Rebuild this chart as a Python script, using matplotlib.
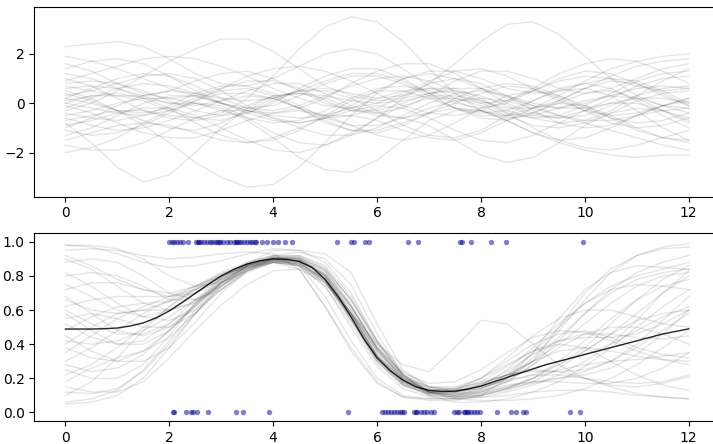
import numpy as np
import matplotlib
matplotlib.use("Agg")
import matplotlib.pyplot as plt

x_grid = [0, 0.5, 1, 1.5, 2, 2.5, 3, 3.5, 4, 4.5, 5, 5.5, 6, 6.5, 7, 7.5, 8, 8.5, 9, 9.5, 10, 10.5, 11, 11.5, 12]

# Top panel: prior sample curves
prior_samples = [
    [2.3, 2.4, 2.5, 2.3, 1.8, 1.2, 0.8, 0.7, 1.0, 1.5, 2.0, 2.2, 2.0, 1.4, 0.7, 0.2, 0.0, 0.1, 0.5, 0.9, 1.1, 1.0, 0.7, 0.5, 0.6],
    [-2.0, -1.8, -1.4, -0.8, -0.3, 0.0, -0.1, -0.6, -1.2, -1.6, -1.7, -1.3, -0.6, 0.2, 0.8, 1.0, 0.8, 0.3, -0.3, -0.8, -1.0, -0.9, -0.5, -0.1, 0.2],
    [-0.8, -1.6, -2.6, -3.2, -2.9, -2.0, -1.0, -0.2, 0.3, 0.4, 0.2, -0.2, -0.5, -0.6, -0.4, 0.0, 0.4, 0.7, 0.6, 0.2, -0.3, -0.8, -1.0, -0.9, -0.6],
    [0.5, 0.2, -0.3, -0.9, -1.6, -2.4, -3.0, -3.4, -3.3, -2.6, -1.6, -0.5, 0.4, 1.0, 1.2, 1.0, 0.6, 0.2, -0.1, -0.2, 0.0, 0.3, 0.6, 0.7, 0.6],
    [-0.7, -0.5, -0.3, -0.3, -0.5, -0.6, -0.4, 0.2, 1.1, 2.2, 3.1, 3.5, 3.3, 2.5, 1.4, 0.4, -0.3, -0.6, -0.5, -0.2, 0.1, 0.3, 0.2, -0.1, -0.4],
    [0.1, 0.3, 0.3, 0.1, -0.3, -0.6, -0.7, -0.4, 0.1, 0.5, 0.6, 0.4, 0.2, 0.3, 0.8, 1.6, 2.5, 3.2, 3.3, 2.8, 1.9, 1.0, 0.3, -0.1, -0.2],
    [1.2, 1.0, 0.6, 0.2, 0.0, 0.0, -0.2, -0.7, -1.4, -2.2, -2.7, -2.8, -2.3, -1.5, -0.7, -0.3, -0.3, -0.7, -1.2, -1.5, -1.4, -1.0, -0.5, -0.1, 0.1],
    [-0.3, 0.0, 0.5, 1.1, 1.7, 2.2, 2.6, 2.6, 2.1, 1.4, 0.7, 0.3, 0.1, 0.2, 0.4, 0.5, 0.3, -0.1, -0.5, -0.6, -0.3, 0.2, 0.7, 1.0, 1.1],
    [0.6, 0.7, 0.6, 0.3, 0.0, -0.1, 0.1, 0.5, 0.8, 0.8, 0.4, -0.1, -0.4, -0.6, -0.9, -1.5, -2.1, -2.4, -2.2, -1.6, -0.9, -0.4, -0.2, -0.3, -0.6],
    [1.6, 1.3, 0.8, 0.4, 0.2, 0.3, 0.6, 0.9, 0.9, 0.6, 0.1, -0.3, -0.4, -0.2, 0.3, 0.9, 1.3, 1.3, 1.0, 0.6, 0.4, 0.6, 1.0, 1.4, 1.6],
    [-1.5, -1.2, -0.9, -0.8, -0.9, -1.2, -1.5, -1.6, -1.4, -1.0, -0.6, -0.5, -0.7, -1.1, -1.4, -1.5, -1.2, -0.7, -0.2, 0.0, -0.1, -0.5, -1.0, -1.4, -1.6],
    [0.2, 0.6, 1.0, 1.2, 1.1, 0.7, 0.2, -0.2, -0.3, -0.1, 0.3, 0.7, 1.0, 1.1, 0.9, 0.5, 0.1, -0.2, -0.2, 0.1, 0.6, 1.1, 1.5, 1.7, 1.8],
    [-0.4, -0.6, -0.7, -0.5, -0.1, 0.4, 0.7, 0.7, 0.4, -0.1, -0.6, -0.9, -0.9, -0.6, -0.2, 0.1, 0.2, 0.1, -0.2, -0.5, -0.8, -1.1, -1.4, -1.7, -1.9],
    [0.9, 1.2, 1.5, 1.8, 1.9, 1.8, 1.5, 1.1, 0.6, 0.2, -0.1, -0.2, 0.0, 0.4, 0.9, 1.3, 1.4, 1.1, 0.6, 0.1, -0.3, -0.5, -0.4, -0.1, 0.2],
    [-1.1, -1.3, -1.2, -0.9, -0.4, 0.1, 0.4, 0.4, 0.2, -0.2, -0.5, -0.5, -0.2, 0.3, 0.6, 0.6, 0.2, -0.4, -1.0, -1.5, -1.8, -1.9, -1.7, -1.4, -1.1],
    [0.0, -0.2, -0.4, -0.5, -0.3, 0.1, 0.6, 1.1, 1.4, 1.5, 1.3, 0.9, 0.4, -0.1, -0.4, -0.5, -0.3, 0.1, 0.6, 1.2, 1.6, 1.8, 1.7, 1.3, 0.8],
    [1.9, 1.7, 1.4, 1.0, 0.6, 0.3, 0.0, -0.3, -0.5, -0.6, -0.5, -0.2, 0.2, 0.5, 0.6, 0.4, 0.0, -0.4, -0.6, -0.5, -0.1, 0.4, 0.9, 1.2, 1.3],
    [-0.9, -0.7, -0.4, -0.2, -0.2, -0.5, -1.0, -1.5, -1.9, -2.0, -1.7, -1.2, -0.6, -0.1, 0.2, 0.2, -0.1, -0.5, -0.9, -1.0, -0.8, -0.4, 0.1, 0.4, 0.5],
    [0.4, 0.1, -0.3, -0.7, -1.0, -1.1, -0.8, -0.3, 0.2, 0.5, 0.5, 0.2, -0.3, -0.9, -1.3, -1.4, -1.1, -0.5, 0.1, 0.6, 0.8, 0.6, 0.1, -0.5, -1.0],
    [-1.7, -1.9, -1.9, -1.6, -1.1, -0.6, -0.3, -0.3, -0.6, -1.0, -1.3, -1.3, -1.0, -0.5, 0.0, 0.4, 0.5, 0.3, 0.0, -0.2, -0.2, 0.0, 0.2, 0.2, 0.0],
    [0.7, 0.5, 0.3, 0.3, 0.5, 0.9, 1.2, 1.3, 1.0, 0.5, 0.0, -0.3, -0.3, 0.0, 0.4, 0.6, 0.6, 0.3, -0.1, -0.5, -0.7, -0.7, -0.5, -0.3, -0.2],
    [-0.2, 0.2, 0.6, 0.8, 0.7, 0.4, 0.0, -0.3, -0.4, -0.2, 0.2, 0.8, 1.3, 1.6, 1.6, 1.2, 0.6, 0.0, -0.4, -0.6, -0.5, -0.1, 0.3, 0.6, 0.7],
    [1.0, 0.7, 0.2, -0.3, -0.6, -0.7, -0.5, -0.1, 0.3, 0.4, 0.3, 0.1, 0.0, 0.1, 0.3, 0.3, 0.1, -0.3, -0.6, -0.8, -0.7, -0.3, 0.3, 0.9, 1.4],
    [-0.6, -0.9, -1.1, -1.0, -0.7, -0.3, 0.1, 0.3, 0.2, -0.2, -0.7, -1.1, -1.2, -0.9, -0.4, 0.2, 0.6, 0.8, 0.7, 0.3, -0.2, -0.6, -0.8, -0.7, -0.4],
    [0.3, 0.5, 0.8, 1.1, 1.2, 1.0, 0.5, -0.1, -0.6, -0.8, -0.6, -0.1, 0.5, 1.0, 1.3, 1.3, 1.0, 0.6, 0.4, 0.5, 0.8, 1.0, 0.9, 0.5, 0.0],
    [-1.3, -1.0, -0.5, 0.0, 0.3, 0.3, 0.0, -0.4, -0.7, -0.8, -0.6, -0.3, -0.1, -0.2, -0.6, -1.1, -1.5, -1.6, -1.3, -0.8, -0.3, 0.0, 0.0, -0.3, -0.7],
    [0.8, 0.9, 0.8, 0.5, 0.1, -0.3, -0.5, -0.4, 0.0, 0.6, 1.1, 1.4, 1.4, 1.0, 0.4, -0.2, -0.6, -0.7, -0.4, 0.1, 0.6, 0.9, 0.8, 0.4, -0.1],
    [-0.1, -0.4, -0.8, -1.2, -1.4, -1.4, -1.1, -0.7, -0.4, -0.3, -0.5, -0.9, -1.3, -1.5, -1.3, -0.8, -0.2, 0.3, 0.5, 0.3, -0.1, -0.6, -1.1, -1.4, -1.5],
    [1.4, 1.7, 1.8, 1.6, 1.1, 0.5, 0.0, -0.2, -0.1, 0.3, 0.8, 1.1, 1.1, 0.8, 0.3, -0.2, -0.5, -0.5, -0.2, 0.3, 0.9, 1.4, 1.7, 1.9, 2.0],
    [-0.5, -0.3, 0.0, 0.2, 0.2, 0.0, -0.3, -0.6, -0.8, -0.7, -0.3, 0.2, 0.6, 0.7, 0.5, 0.1, -0.3, -0.5, -0.4, 0.0, 0.4, 0.5, 0.2, -0.3, -0.8],
    [0.0, 0.3, 0.4, 0.2, -0.2, -0.8, -1.3, -1.6, -1.5, -1.1, -0.5, 0.1, 0.5, 0.5, 0.2, -0.2, -0.4, -0.3, 0.1, 0.5, 0.6, 0.3, -0.3, -1.0, -1.5],
    [-1.0, -0.6, -0.1, 0.3, 0.5, 0.4, 0.2, 0.1, 0.2, 0.5, 0.9, 1.2, 1.2, 0.9, 0.4, 0.0, -0.2, 0.0, 0.5, 1.0, 1.3, 1.2, 0.8, 0.3, -0.1],
    [0.2, 0.0, -0.3, -0.4, -0.2, 0.2, 0.5, 0.6, 0.3, -0.2, -0.8, -1.1, -1.1, -0.8, -0.4, -0.2, -0.3, -0.7, -1.2, -1.6, -1.9, -2.1, -2.2, -2.1, -2.1],
]

# Bottom panel: posterior probability samples
posterior_samples = [
    [0.98, 0.97, 0.93, 0.88, 0.85, 0.86, 0.89, 0.93, 0.96, 0.95, 0.93, 0.82, 0.52, 0.25, 0.15, 0.12, 0.14, 0.20, 0.30, 0.50, 0.70, 0.84, 0.92, 0.96, 0.97],
    [0.06, 0.08, 0.13, 0.25, 0.42, 0.60, 0.76, 0.86, 0.90, 0.86, 0.68, 0.42, 0.20, 0.10, 0.08, 0.08, 0.09, 0.10, 0.12, 0.13, 0.13, 0.12, 0.10, 0.09, 0.08],
    [0.75, 0.68, 0.60, 0.56, 0.60, 0.70, 0.80, 0.87, 0.90, 0.88, 0.78, 0.55, 0.30, 0.16, 0.11, 0.11, 0.15, 0.22, 0.30, 0.36, 0.38, 0.36, 0.33, 0.31, 0.30],
    [0.30, 0.38, 0.48, 0.58, 0.66, 0.74, 0.82, 0.88, 0.92, 0.92, 0.85, 0.66, 0.40, 0.22, 0.14, 0.12, 0.14, 0.20, 0.30, 0.44, 0.58, 0.70, 0.78, 0.82, 0.84],
    [0.90, 0.84, 0.74, 0.64, 0.60, 0.64, 0.74, 0.83, 0.88, 0.86, 0.74, 0.50, 0.27, 0.14, 0.09, 0.08, 0.10, 0.14, 0.20, 0.25, 0.28, 0.30, 0.31, 0.33, 0.35],
    [0.15, 0.12, 0.12, 0.18, 0.32, 0.48, 0.63, 0.75, 0.83, 0.84, 0.76, 0.58, 0.38, 0.23, 0.17, 0.18, 0.25, 0.35, 0.44, 0.48, 0.47, 0.42, 0.36, 0.31, 0.28],
    [0.62, 0.66, 0.68, 0.68, 0.68, 0.72, 0.79, 0.86, 0.90, 0.89, 0.80, 0.60, 0.36, 0.20, 0.13, 0.12, 0.16, 0.24, 0.34, 0.42, 0.46, 0.46, 0.44, 0.43, 0.45],
    [0.45, 0.36, 0.30, 0.30, 0.38, 0.53, 0.70, 0.83, 0.90, 0.91, 0.84, 0.66, 0.42, 0.24, 0.15, 0.13, 0.15, 0.19, 0.22, 0.22, 0.20, 0.18, 0.17, 0.18, 0.22],
    [0.95, 0.96, 0.95, 0.92, 0.90, 0.91, 0.93, 0.94, 0.93, 0.84, 0.62, 0.36, 0.17, 0.09, 0.07, 0.07, 0.10, 0.20, 0.35, 0.55, 0.72, 0.82, 0.86, 0.85, 0.84],
    [0.22, 0.28, 0.38, 0.50, 0.62, 0.72, 0.80, 0.86, 0.89, 0.87, 0.76, 0.54, 0.31, 0.17, 0.11, 0.10, 0.14, 0.22, 0.35, 0.50, 0.64, 0.74, 0.80, 0.84, 0.88],
    [0.55, 0.58, 0.55, 0.50, 0.50, 0.58, 0.72, 0.84, 0.91, 0.92, 0.86, 0.68, 0.42, 0.22, 0.12, 0.08, 0.07, 0.07, 0.08, 0.10, 0.14, 0.20, 0.28, 0.38, 0.48],
    [0.82, 0.74, 0.64, 0.56, 0.54, 0.60, 0.72, 0.83, 0.89, 0.89, 0.80, 0.58, 0.33, 0.18, 0.12, 0.13, 0.20, 0.32, 0.45, 0.55, 0.60, 0.60, 0.56, 0.52, 0.50],
    [0.10, 0.18, 0.32, 0.48, 0.62, 0.73, 0.81, 0.87, 0.90, 0.88, 0.77, 0.54, 0.30, 0.16, 0.10, 0.09, 0.11, 0.15, 0.18, 0.20, 0.22, 0.26, 0.34, 0.46, 0.60],
    [0.68, 0.58, 0.48, 0.45, 0.50, 0.62, 0.76, 0.86, 0.91, 0.90, 0.81, 0.60, 0.35, 0.19, 0.13, 0.14, 0.18, 0.22, 0.24, 0.24, 0.25, 0.30, 0.40, 0.54, 0.68],
    [0.35, 0.45, 0.55, 0.62, 0.68, 0.74, 0.80, 0.85, 0.88, 0.86, 0.76, 0.58, 0.40, 0.28, 0.24, 0.38, 0.54, 0.52, 0.40, 0.28, 0.20, 0.16, 0.15, 0.17, 0.21],
    [0.40, 0.50, 0.58, 0.60, 0.60, 0.65, 0.75, 0.84, 0.89, 0.89, 0.81, 0.62, 0.38, 0.21, 0.13, 0.11, 0.12, 0.15, 0.20, 0.28, 0.38, 0.52, 0.66, 0.78, 0.86],
    [0.25, 0.20, 0.20, 0.28, 0.45, 0.64, 0.79, 0.88, 0.92, 0.91, 0.83, 0.63, 0.37, 0.19, 0.11, 0.09, 0.10, 0.13, 0.18, 0.26, 0.36, 0.46, 0.54, 0.58, 0.60],
    [0.88, 0.90, 0.88, 0.80, 0.70, 0.66, 0.72, 0.82, 0.88, 0.88, 0.78, 0.56, 0.32, 0.18, 0.12, 0.13, 0.18, 0.27, 0.36, 0.40, 0.38, 0.30, 0.22, 0.16, 0.13],
    [0.52, 0.44, 0.40, 0.42, 0.52, 0.66, 0.79, 0.87, 0.91, 0.90, 0.80, 0.58, 0.33, 0.18, 0.12, 0.12, 0.16, 0.25, 0.38, 0.52, 0.64, 0.72, 0.75, 0.74, 0.72],
    [0.05, 0.06, 0.10, 0.20, 0.38, 0.58, 0.76, 0.86, 0.91, 0.91, 0.84, 0.66, 0.41, 0.22, 0.12, 0.09, 0.10, 0.14, 0.20, 0.30, 0.42, 0.55, 0.66, 0.74, 0.78],
    [0.72, 0.76, 0.76, 0.72, 0.68, 0.70, 0.78, 0.85, 0.88, 0.86, 0.74, 0.52, 0.29, 0.16, 0.11, 0.12, 0.17, 0.22, 0.25, 0.24, 0.20, 0.15, 0.11, 0.09, 0.08],
    [0.18, 0.26, 0.32, 0.36, 0.44, 0.58, 0.74, 0.86, 0.92, 0.94, 0.90, 0.75, 0.46, 0.22, 0.10, 0.06, 0.06, 0.08, 0.12, 0.18, 0.27, 0.38, 0.50, 0.62, 0.72],
    [0.60, 0.52, 0.46, 0.46, 0.52, 0.63, 0.76, 0.85, 0.89, 0.87, 0.77, 0.56, 0.33, 0.20, 0.15, 0.15, 0.20, 0.28, 0.36, 0.42, 0.44, 0.44, 0.46, 0.52, 0.60],
    [0.92, 0.86, 0.78, 0.72, 0.70, 0.74, 0.81, 0.87, 0.90, 0.89, 0.81, 0.62, 0.37, 0.20, 0.12, 0.10, 0.12, 0.18, 0.28, 0.42, 0.58, 0.72, 0.82, 0.88, 0.92],
    [0.38, 0.32, 0.30, 0.36, 0.48, 0.63, 0.77, 0.86, 0.90, 0.89, 0.79, 0.58, 0.34, 0.19, 0.13, 0.14, 0.20, 0.30, 0.40, 0.46, 0.48, 0.44, 0.38, 0.34, 0.32],
    [0.80, 0.82, 0.80, 0.74, 0.66, 0.66, 0.74, 0.84, 0.90, 0.90, 0.83, 0.63, 0.38, 0.20, 0.12, 0.10, 0.11, 0.14, 0.17, 0.20, 0.24, 0.30, 0.38, 0.48, 0.58],
    [0.12, 0.11, 0.14, 0.24, 0.40, 0.58, 0.74, 0.85, 0.90, 0.90, 0.80, 0.58, 0.33, 0.17, 0.10, 0.09, 0.12, 0.18, 0.28, 0.38, 0.46, 0.50, 0.50, 0.46, 0.40],
    [0.48, 0.56, 0.62, 0.64, 0.65, 0.70, 0.78, 0.85, 0.89, 0.88, 0.78, 0.57, 0.33, 0.18, 0.12, 0.11, 0.13, 0.16, 0.18, 0.18, 0.17, 0.17, 0.20, 0.26, 0.35],
    [0.66, 0.60, 0.58, 0.60, 0.65, 0.72, 0.80, 0.86, 0.89, 0.87, 0.77, 0.55, 0.31, 0.17, 0.12, 0.12, 0.16, 0.22, 0.30, 0.40, 0.52, 0.64, 0.74, 0.80, 0.82],
    [0.28, 0.24, 0.26, 0.34, 0.48, 0.64, 0.78, 0.87, 0.91, 0.90, 0.82, 0.62, 0.38, 0.22, 0.15, 0.14, 0.17, 0.22, 0.26, 0.30, 0.34, 0.40, 0.48, 0.56, 0.62],
    [0.98, 0.98, 0.96, 0.90, 0.80, 0.74, 0.76, 0.83, 0.88, 0.84, 0.62, 0.38, 0.18, 0.09, 0.08, 0.08, 0.09, 0.12, 0.16, 0.22, 0.30, 0.40, 0.54, 0.70, 0.83],
    [0.42, 0.40, 0.42, 0.48, 0.56, 0.66, 0.76, 0.84, 0.88, 0.87, 0.78, 0.58, 0.36, 0.21, 0.14, 0.13, 0.15, 0.18, 0.22, 0.28, 0.36, 0.46, 0.58, 0.70, 0.80],
    [0.58, 0.48, 0.40, 0.40, 0.48, 0.62, 0.77, 0.87, 0.95, 0.95, 0.88, 0.70, 0.42, 0.21, 0.12, 0.10, 0.13, 0.20, 0.32, 0.48, 0.66, 0.82, 0.92, 0.97, 0.99],
]

# Posterior mean, read at quarter-unit steps
x_mean = [0, 0.25, 0.5, 0.75, 1, 1.25, 1.5, 1.75, 2, 2.25, 2.5, 2.75, 3, 3.25, 3.5, 3.75, 4, 4.25, 4.5, 4.75,
          5, 5.25, 5.5, 5.75, 6, 6.25, 6.5, 6.75, 7, 7.25, 7.5, 7.75, 8, 8.25, 8.5, 8.75, 9, 9.25, 9.5, 9.75,
          10, 10.25, 10.5, 10.75, 11, 11.25, 11.5, 11.75, 12]
posterior_mean = [0.489, 0.489, 0.489, 0.491, 0.495, 0.507, 0.525, 0.555, 0.595, 0.645, 0.698, 0.75, 0.80, 0.84,
                  0.87, 0.89, 0.90, 0.898, 0.885, 0.85, 0.78, 0.68, 0.56, 0.43, 0.32, 0.245, 0.19, 0.15, 0.13,
                  0.123, 0.125, 0.137, 0.155, 0.18, 0.205, 0.23, 0.255, 0.28, 0.30, 0.32, 0.34, 0.36, 0.38,
                  0.40, 0.42, 0.44, 0.46, 0.475, 0.49]

# Observed labels (class 1 at top, class 0 at bottom)
x_pos = [2.0, 2.05, 2.1, 2.15, 2.21, 2.26, 2.36, 2.52, 2.55, 2.58, 2.62, 2.66, 2.72, 2.78, 2.83,
         2.88, 2.92, 2.95, 2.98, 3.04, 3.11, 3.17, 3.24, 3.28, 3.31, 3.35, 3.39, 3.43, 3.49, 3.56,
         3.6, 3.65, 3.67, 3.78, 3.88, 4.0, 4.1, 4.22, 4.36, 5.23, 5.5, 5.55, 5.76, 5.84, 6.59, 6.78,
         7.6, 7.63, 7.81, 8.19, 8.49, 9.97]
x_neg = [2.07, 2.1, 2.32, 2.42, 2.46, 2.53, 2.74, 3.29, 3.42, 3.91, 5.45, 6.1, 6.16, 6.21, 6.27,
         6.32, 6.39, 6.45, 6.48, 6.52, 6.71, 6.74, 6.77, 6.84, 6.9, 6.96, 7.03, 7.09, 7.48, 7.53,
         7.57, 7.67, 7.7, 7.73, 7.76, 7.8, 7.86, 7.93, 7.99, 8.31, 8.57, 8.68, 8.81, 8.87, 9.72, 9.9]

fig = plt.figure(figsize=(7.13, 4.44), dpi=100)
ax1 = fig.add_axes([0.048, 0.557, 0.9617, 0.4266])
ax2 = fig.add_axes([0.048, 0.0518, 0.9617, 0.4227])

# Prior samples
for s in prior_samples:
    ax1.plot(x_grid, s, color="k", alpha=0.1, lw=1)
ax1.set_xlim(-0.6, 12.6)
ax1.set_ylim(-3.79, 3.89)
ax1.set_xticks(range(0, 13, 2))
ax1.set_yticks([-2, 0, 2])

# Posterior samples, mean and data points
for s in posterior_samples:
    ax2.plot(x_grid, s, color="k", alpha=0.1, lw=1)
ax2.plot(x_mean, posterior_mean, color="k", alpha=0.85, lw=1)
ax2.scatter(x_pos, np.ones(len(x_pos)), s=15, color="darkblue", alpha=0.5, linewidths=0)
ax2.scatter(x_neg, np.zeros(len(x_neg)), s=15, color="darkblue", alpha=0.5, linewidths=0)
ax2.set_xlim(-0.6, 12.6)
ax2.set_ylim(-0.05, 1.05)
ax2.set_xticks(range(0, 13, 2))

fig.savefig("out.png", dpi=100)
plt.close(fig)
